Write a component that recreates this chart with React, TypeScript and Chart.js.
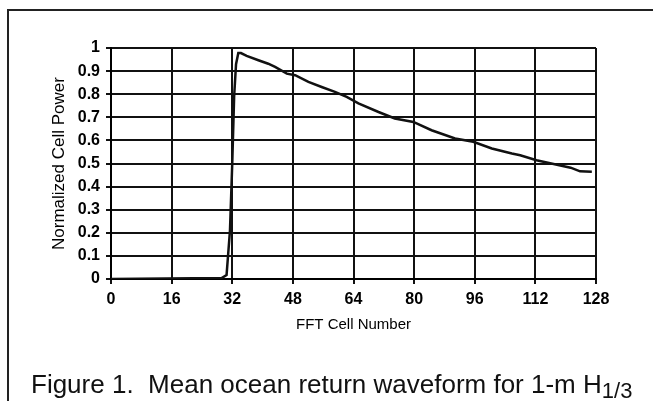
import React, { useEffect, useRef } from "react";
import { Chart, registerables } from "chart.js";

Chart.register(...registerables);

// FFT cell number (x) and normalized cell power (y)
const cellNumbers = [
  0, 29.2, 30.5, 31.4, 32.0, 32.5, 33.0, 33.6, 34.3, 35.8, 38.9, 41.5, 43.3,
  46.4, 48.6, 52.1, 55.6, 59.1, 62.2, 65.3, 70.6, 74.9, 79.8, 84.6, 90.8,
  95.6, 100.5, 105.8, 108.0, 112.3, 115.6, 121.3, 123.8, 126.9,
];
const power = [
  0, 0.004, 0.017, 0.21, 0.5, 0.79, 0.93, 0.978, 0.978, 0.966, 0.947, 0.932,
  0.918, 0.889, 0.882, 0.853, 0.831, 0.81, 0.788, 0.76, 0.723, 0.695, 0.68,
  0.644, 0.608, 0.594, 0.565, 0.543, 0.536, 0.514, 0.502, 0.482, 0.466, 0.464,
];

const xTitle = "FFT Cell Number";
const yTitle = "Normalized Cell Power";
const xMin = 0;
const xMax = 128;
const xStep = 16;
const yMin = 0;
const yMax = 1;
const yStep = 0.1;

const FONT = "'Liberation Sans', Arial, Helvetica, sans-serif";

export default function App() {
  const canvasRef = useRef<HTMLCanvasElement | null>(null);

  useEffect(() => {
    const canvas = canvasRef.current;
    if (!canvas) return;
    const data = cellNumbers.map((x, i) => ({ x, y: power[i] }));
    const chart = new Chart(canvas, {
      type: "line",
      data: {
        datasets: [
          {
            data,
            borderColor: "#111",
            borderWidth: 2.5,
            pointRadius: 0,
            tension: 0,
            fill: false,
          },
        ],
      },
      options: {
        animation: false,
        responsive: false,
        devicePixelRatio: 1,
        layout: { padding: { left: 45, top: 48, right: 57, bottom: 62 } },
        plugins: {
          legend: { display: false },
          tooltip: { enabled: false },
        },
        scales: {
          x: {
            type: "linear",
            min: xMin,
            max: xMax,
            afterFit: (s: any) => {
              s.height = 60;
            },
            ticks: {
              stepSize: xStep,
              color: "#000",
              padding: 6,
              maxRotation: 0,
              font: { family: FONT, size: 16, weight: "bold" },
            },
            grid: {
              color: "#111",
              lineWidth: 2,
              tickLength: 5,
            },
            border: { color: "#000", width: 2 },
            title: {
              display: true,
              text: xTitle,
              color: "#000",
              font: { family: FONT, size: 15 },
              padding: { top: 0, bottom: 5 },
            },
          },
          y: {
            min: yMin,
            max: yMax,
            afterFit: (s: any) => {
              s.width = 66;
            },
            ticks: {
              stepSize: yStep,
              color: "#000",
              padding: 6,
              font: { family: FONT, size: 16, weight: "bold" },
              callback: (v: any) => String(Number(Number(v).toFixed(1))),
            },
            grid: {
              color: "#111",
              lineWidth: 2,
              tickLength: 5,
            },
            border: { color: "#000", width: 2 },
            title: {
              display: true,
              text: yTitle,
              color: "#000",
              font: { family: FONT, size: 17 },
              padding: { top: 4, bottom: 0 },
            },
          },
        },
      },
    });
    return () => chart.destroy();
  }, []);

  return (
    <div
      style={{
        position: "fixed",
        left: 0,
        top: 0,
        width: 653,
        height: 401,
        overflow: "hidden",
        background: "#fff",
      }}
    >
      <div
        style={{
          position: "absolute",
          left: 7,
          top: 9,
          width: 760,
          height: 500,
          border: "2px solid #222",
        }}
      />
      <canvas
        ref={canvasRef}
        width={653}
        height={401}
        style={{ position: "absolute", left: 0, top: 0 }}
      />
      <div
        style={{
          position: "absolute",
          left: 31,
          top: 368,
          fontFamily: FONT,
          fontSize: 26,
          lineHeight: "32px",
          color: "#111",
          whiteSpace: "pre",
        }}
      >
        {"Figure 1.  Mean ocean return waveform for 1-m H"}
        <span style={{ fontSize: 22, position: "relative", top: 5 }}>1/3</span>
      </div>
    </div>
  );
}
